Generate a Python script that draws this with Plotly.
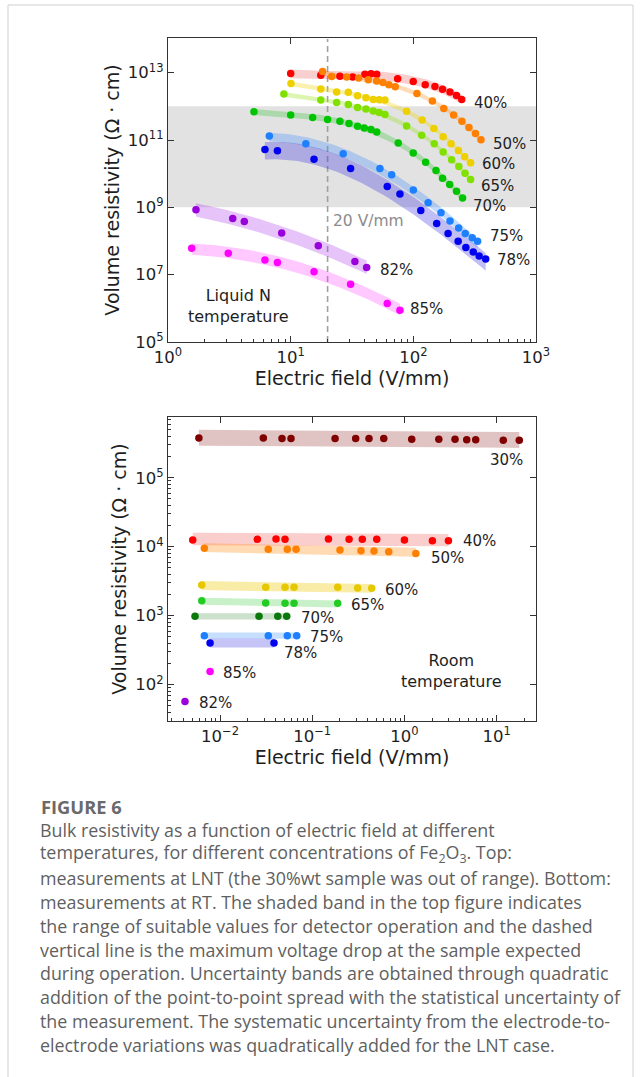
import numpy as np
import plotly.graph_objects as go

# ---------------- data: liquid-nitrogen temperature (top) ----------------
lnt_E_40 = [10.0, 17.6, 25.2, 32.0, 40.3, 45.2, 50.3, 74.5, 99.8, 125, 150, 173, 199, 225, 248]
lnt_R_40 = [9.5e12, 8.4e12, 7.8e12, 7.4e12, 9.0e12, 9.3e12, 9.0e12, 6.6e12, 5.5e12, 4.4e12, 3.9e12, 3.2e12, 2.65e12, 2.1e12, 1.6e12]
lnt_E_50 = [18.2, 21.6, 28.6, 35.8, 42.9, 50.2, 56.5, 63.2, 71.2, 107, 143, 177, 213, 249, 284, 321, 356]
lnt_R_50 = [1.09e13, 7.7e12, 7.4e12, 6.9e12, 6.2e12, 5.65e12, 5.1e12, 4.4e12, 3.8e12, 2.4e12, 1.45e12, 8.7e11, 5.5e11, 3.6e11, 2.35e11, 1.56e11, 1.01e11]
lnt_E_60 = [10.05, 17.6, 23.7, 29.5, 35.1, 41.1, 47.1, 52.7, 58.7, 88.1, 118, 147, 175, 203, 233, 262, 293]
lnt_R_60 = [4.8e12, 3.26e12, 2.65e12, 2.6e12, 2.06e12, 1.79e12, 1.61e12, 1.56e12, 1.53e12, 7.2e11, 3.9e11, 2.19e11, 1.26e11, 7.8e10, 4.9e10, 3.2e10, 2.1e10]
lnt_E_65 = [8.8, 17.6, 23.7, 29.5, 35.1, 41.1, 47.1, 52.7, 58.7, 88.1, 117, 148, 175, 205, 235, 264, 293]
lnt_R_65 = [2.31e12, 1.53e12, 1.31e12, 1.14e12, 9.3e11, 8.4e11, 7.3e11, 6.6e11, 5.7e11, 2.6e11, 1.38e11, 7.8e10, 4.4e10, 2.6e10, 1.64e10, 1.03e10, 6.7e9]
lnt_E_70 = [5.02, 10.0, 15.1, 20.0, 25.2, 29.9, 35.1, 39.8, 45.2, 50.3, 75.3, 99.8, 126, 153, 173, 198, 225, 252]
lnt_R_70 = [6.9e11, 5.5e11, 4.7e11, 4.1e11, 3.6e11, 3.1e11, 2.57e11, 2.28e11, 2.04e11, 1.73e11, 8.1e10, 4.1e10, 2.2e10, 1.25e10, 7.3e9, 4.8e9, 3.0e9, 1.9e9]
lnt_E_75 = [6.7, 13.3, 26.8, 53.4, 66.6, 100, 132, 168, 199, 234, 265, 302, 334]
lnt_R_75 = [1.31e11, 7.8e10, 3.93e10, 1.43e10, 9.3e9, 3.3e9, 1.38e9, 6.9e8, 3.9e8, 2.43e8, 1.67e8, 1.25e8, 9.8e7]
lnt_E_78 = [6.17, 7.8, 15.5, 30.8, 61.3, 77.8, 115, 155, 192, 232, 268, 308, 344, 389]
lnt_R_78 = [5.2e10, 4.8e10, 2.7e10, 1.43e10, 4.15e9, 2.5e9, 8.0e8, 3.3e8, 1.67e8, 9.9e7, 6.4e7, 4.7e7, 3.6e7, 2.9e7]
lnt_E_82 = [1.69, 3.37, 4.19, 8.45, 16.8, 33.4, 41.6]
lnt_R_82 = [8.5e8, 4.7e8, 3.8e8, 1.72e8, 7.2e7, 2.45e7, 1.62e7]
lnt_E_85 = [1.56, 3.1, 6.17, 7.8, 15.5, 30.8, 61.3, 77.8]
lnt_R_85 = [6.1e7, 4.35e7, 2.75e7, 2.28e7, 1.23e7, 5.2e6, 1.4e6, 8.8e5]

# ---------------- data: room temperature (bottom) ----------------
rt_E_30 = [0.0059, 0.0295, 0.047, 0.0589, 0.177, 0.296, 0.413, 0.597, 1.2, 2.36, 3.54, 4.74, 5.93, 11.8, 17.6]
rt_R_30 = [3.75e5, 3.75e5, 3.7e5, 3.7e5, 3.7e5, 3.7e5, 3.7e5, 3.7e5, 3.6e5, 3.6e5, 3.6e5, 3.55e5, 3.55e5, 3.5e5, 3.5e5]
rt_E_40 = [0.00506, 0.0254, 0.0405, 0.0507, 0.150, 0.251, 0.349, 0.501, 1.0, 2.01, 3.0]
rt_R_40 = [1.25e4, 1.28e4, 1.29e4, 1.28e4, 1.29e4, 1.28e4, 1.28e4, 1.28e4, 1.25e4, 1.22e4, 1.22e4]
rt_E_50 = [0.00676, 0.0334, 0.0537, 0.0668, 0.200, 0.338, 0.468, 0.676, 1.33]
rt_R_50 = [9.5e3, 9.2e3, 9.2e3, 9.2e3, 8.96e3, 8.75e3, 8.66e3, 8.47e3, 8.0e3]
rt_E_60 = [0.00634, 0.0313, 0.0507, 0.0635, 0.189, 0.311, 0.442]
rt_R_60 = [2.79e3, 2.58e3, 2.58e3, 2.58e3, 2.58e3, 2.52e3, 2.49e3]
rt_E_65 = [0.00634, 0.0313, 0.0507, 0.0635, 0.189]
rt_R_65 = [1.65e3, 1.53e3, 1.51e3, 1.51e3, 1.51e3]
rt_E_70 = [0.00536, 0.0265, 0.0423, 0.0529]
rt_R_70 = [980, 980, 980, 980]
rt_E_75 = [0.00676, 0.0334, 0.0537, 0.0679]
rt_R_75 = [513, 513, 513, 513]
rt_E_78 = [0.0078, 0.0385]
rt_R_78 = [402, 402]
rt_E_85 = [0.0078]
rt_R_85 = [156]
rt_E_82 = [0.00417]
rt_R_82 = [57]

suitable_range = [1e9, 1e12]
max_field = 20

top_ticks = [1, 10, 100, 1000]
top_ticktext = ["10<sup>0</sup>", "10<sup>1</sup>", "10<sup>2</sup>", "10<sup>3</sup>"]
top_yticks = [1e5, 1e7, 1e9, 1e11, 1e13]
top_yticktext = ["10<sup>5</sup>", "10<sup>7</sup>", "10<sup>9</sup>", "10<sup>11</sup>", "10<sup>13</sup>"]
bot_ticks = [0.01, 0.1, 1, 10]
bot_ticktext = ["10<sup>\u22122</sup>", "10<sup>\u22121</sup>", "10<sup>0</sup>", "10<sup>1</sup>"]
bot_yticks = [1e2, 1e3, 1e4, 1e5]
bot_yticktext = ["10<sup>2</sup>", "10<sup>3</sup>", "10<sup>4</sup>", "10<sup>5</sup>"]

# ---------------- styles ----------------
W, H = 641, 1077
FONT = "DejaVu Sans"
TXT = "#1e1e1e"
LBL = 15

top_series = [
    ("40%", lnt_E_40, lnt_R_40, "#ff0000", "rgba(225,50,50,0.24)", 0.13, (2.475, 12.10)),
    ("50%", lnt_E_50, lnt_R_50, "#ff7f00", "rgba(255,140,20,0.30)", 0.07, (2.630, 10.893)),
    ("60%", lnt_E_60, lnt_R_60, "#eecf00", "rgba(240,210,0,0.32)", 0.07, (2.543, 10.296)),
    ("65%", lnt_E_65, lnt_R_65, "#80e000", "rgba(140,225,0,0.30)", 0.07, (2.535, 9.627)),
    ("70%", lnt_E_70, lnt_R_70, "#00c400", "rgba(0,190,0,0.24)", 0.09, (2.469, 9.05)),
    ("75%", lnt_E_75, lnt_R_75, "#1e7fff", "rgba(40,130,255,0.28)", 0.13, (2.605, 8.134)),
    ("78%", lnt_E_78, lnt_R_78, "#0000f0", "rgba(50,40,225,0.30)", 0.26, (2.665, 7.43)),
    ("82%", lnt_E_82, lnt_R_82, "#9a00dc", "rgba(165,40,230,0.28)", 0.20, (1.709, 7.14)),
    ("85%", lnt_E_85, lnt_R_85, "#ff00ff", "rgba(255,40,255,0.25)", 0.17, (1.959, 5.99)),
]
bot_series = [
    ("30%", rt_E_30, rt_R_30, "#800000", "rgba(130,20,20,0.25)", 0.115, (0.903, 5.257)),
    ("40%", rt_E_40, rt_R_40, "#ff0000", "rgba(240,50,50,0.24)", 0.09, (0.611, 4.087)),
    ("50%", rt_E_50, rt_R_50, "#ff8000", "rgba(255,140,20,0.32)", 0.065, (0.270, 3.832)),
    ("60%", rt_E_60, rt_R_60, "#e6c800", "rgba(235,200,0,0.35)", 0.065, (-0.229, 3.372)),
    ("65%", rt_E_65, rt_R_65, "#22cc22", "rgba(40,200,40,0.25)", 0.05, (-0.598, 3.154)),
    ("70%", rt_E_70, rt_R_70, "#0a780a", "rgba(20,120,20,0.22)", 0.045, (-1.140, 2.967)),
    ("75%", rt_E_75, rt_R_75, "#1e7fff", "rgba(40,130,255,0.26)", 0.045, (-1.042, 2.696)),
    ("78%", rt_E_78, rt_R_78, "#0000f0", "rgba(50,40,225,0.28)", 0.065, (-1.331, 2.455)),
    ("85%", rt_E_85, rt_R_85, "#ff00ff", None, 0, (-1.989, 2.174)),
    ("82%", rt_E_82, rt_R_82, "#9a00dc", None, 0, (-2.246, 1.739)),
]

fig = go.Figure()

def band(E, R, half, color, xa, ya, deg):
    lx = np.log10(np.array(E, float))
    ly = np.log10(np.array(R, float))
    d = min(deg, len(lx) - 1)
    p = np.polyfit(lx, ly, d)
    xs = np.linspace(lx.min(), lx.max(), 60)
    c = np.polyval(p, xs)
    bx = np.concatenate([xs, xs[::-1]])
    by = np.concatenate([c + half, (c - half)[::-1]])
    fig.add_trace(go.Scatter(x=10 ** bx, y=10 ** by, mode="lines", fill="toself",
                             fillcolor=color, line=dict(width=0), hoverinfo="skip",
                             xaxis=xa, yaxis=ya))

# top: suitable range band and 20 V/mm line
fig.add_trace(go.Scatter(x=[1, 1000, 1000, 1, 1], y=[suitable_range[0]] * 2 + [suitable_range[1]] * 2 + [suitable_range[0]],
                         mode="lines", fill="toself", fillcolor="#e2e2e2", line=dict(width=0),
                         hoverinfo="skip", xaxis="x", yaxis="y"))
fig.add_trace(go.Scatter(x=[max_field, max_field], y=[1e5, 1e14], mode="lines",
                         line=dict(color="#a0a0a0", width=1.6, dash="6px,4px"),
                         hoverinfo="skip", xaxis="x", yaxis="y"))

for name, E, R, col, bcol, half, _ in top_series:
    band(E, R, half, bcol, "x", "y", 3 if len(E) >= 10 else 2)
for name, E, R, col, bcol, half, _ in top_series:
    fig.add_trace(go.Scatter(x=E, y=R, mode="markers", marker=dict(color=col, size=7.5),
                             name=name, xaxis="x", yaxis="y"))

for name, E, R, col, bcol, half, _ in bot_series:
    if bcol is not None and len(E) > 1:
        band(E, R, half, bcol, "x2", "y2", 1)
for name, E, R, col, bcol, half, _ in bot_series:
    fig.add_trace(go.Scatter(x=E, y=R, mode="markers", marker=dict(color=col, size=7.5),
                             name=name, xaxis="x2", yaxis="y2"))

# invisible traces so the mirrored (top / right) major-tick axes are drawn
fig.add_trace(go.Scatter(x=[10], y=[1e9], mode="markers", marker=dict(opacity=0),
                         hoverinfo="skip", xaxis="x3", yaxis="y3"))
fig.add_trace(go.Scatter(x=[1], y=[1e3], mode="markers", marker=dict(opacity=0),
                         hoverinfo="skip", xaxis="x4", yaxis="y4"))

ann = []
for name, E, R, col, bcol, half, (ax, ay) in top_series:
    ann.append(dict(x=ax, y=ay, xref="x", yref="y", text=name, showarrow=False,
                    xanchor="left", yanchor="middle", font=dict(family=FONT, size=LBL, color=TXT)))
for name, E, R, col, bcol, half, (ax, ay) in bot_series:
    ann.append(dict(x=ax, y=ay, xref="x2", yref="y2", text=name, showarrow=False,
                    xanchor="left", yanchor="middle", font=dict(family=FONT, size=LBL, color=TXT)))
ann.append(dict(x=1.326, y=8.603, xref="x", yref="y", text="20 V/mm", showarrow=False,
                xanchor="left", yanchor="middle", font=dict(family=FONT, size=15.5, color="#8c8c8c")))
ann.append(dict(x=0.573, y=6.075, xref="x", yref="y", text="Liquid N<br>temperature", showarrow=False,
                xanchor="center", yanchor="middle", font=dict(family=FONT, size=16, color=TXT)))
ann.append(dict(x=0.513, y=2.201, xref="x2", yref="y2", text="Room<br>temperature", showarrow=False,
                xanchor="center", yanchor="middle", font=dict(family=FONT, size=16, color=TXT)))

# caption
CAP_FONT = "Open Sans"
ann.append(dict(x=39 / W, y=1 - 806 / H, xref="paper", yref="paper", text="<b>FIGURE 6</b>",
                showarrow=False, xanchor="left", yanchor="middle",
                font=dict(family=CAP_FONT, size=18.3, color="#6a6a6a")))
cap_lines = [
    "Bulk resistivity as a function of electric field at different",
    "temperatures, for different concentrations of Fe<sub>2</sub>O<sub>3</sub>. Top:",
    "measurements at LNT (the 30%wt sample was out of range). Bottom:",
    "measurements at RT. The shaded band in the top figure indicates",
    "the range of suitable values for detector operation and the dashed",
    "vertical line is the maximum voltage drop at the sample expected",
    "during operation. Uncertainty bands are obtained through quadratic",
    "addition of the point-to-point spread with the statistical uncertainty of",
    "the measurement. The systematic uncertainty from the electrode-to-",
    "electrode variations was quadratically added for the LNT case.",
]
for i, line in enumerate(cap_lines):
    ann.append(dict(x=38 / W, y=1 - (830 + 23.9 * i) / H, xref="paper", yref="paper", text=line,
                    showarrow=False, xanchor="left", yanchor="middle",
                    font=dict(family=CAP_FONT, size=17.85, color="#5f5f5f")))

top_minor = [m * 10 ** k for k in range(0, 3) for m in range(2, 10)]
bot_minor = [m * 10 ** k for k in range(-3, 2) for m in range(2, 10)]
boty_minor = [m * 10 ** k for k in range(1, 6) for m in range(2, 10)]

AX = "#333"
axis_common = dict(type="log", showgrid=False, zeroline=False, showline=True, linecolor=AX,
                   linewidth=1.3, mirror=True, ticks="inside", ticklen=6, tickwidth=1.2,
                   tickcolor=AX, tickfont=dict(family=FONT, size=16.5, color=TXT), tickmode="array",
                   automargin=False)
mirror_common = dict(type="log", showgrid=False, zeroline=False, showline=False, ticks="inside",
                     ticklen=6, tickwidth=1.2, tickcolor=AX, showticklabels=False, tickmode="array",
                     automargin=False)
TITLE_FONT = dict(family=FONT, size=19, color=TXT)

fig.update_layout(
    template="none",
    width=W, height=H, margin=dict(l=0, r=0, t=0, b=0, autoexpand=False),
    paper_bgcolor="white", plot_bgcolor="white", showlegend=False,
    font=dict(family=FONT, color=TXT),
    xaxis=dict(axis_common, domain=[168 / W, 536 / W], anchor="y", range=[0, 3],
               tickvals=top_ticks, ticktext=top_ticktext,
               minor=dict(tickvals=top_minor, ticks="inside", ticklen=3, tickwidth=1, tickcolor=AX),
               title=dict(text="Electric field (V/mm)", font=TITLE_FONT, standoff=2)),
    yaxis=dict(axis_common, domain=[1 - 342 / H, 1 - 38 / H], anchor="x", range=[5, 14.03],
               tickvals=top_yticks, ticktext=top_yticktext,
               title=dict(text="Volume resistivity (\u03a9 \u00b7 cm)", font=TITLE_FONT, standoff=3)),
    xaxis3=dict(mirror_common, overlaying="x", side="top", anchor="y", range=[0, 3], tickvals=top_ticks),
    yaxis3=dict(mirror_common, overlaying="y", side="right", anchor="x", range=[5, 14.03], tickvals=top_yticks),
    xaxis2=dict(axis_common, domain=[168 / W, 536 / W], anchor="y2", range=[-2.564, 1.427],
                tickvals=bot_ticks, ticktext=bot_ticktext,
                minor=dict(tickvals=bot_minor, ticks="inside", ticklen=3, tickwidth=1, tickcolor=AX),
                title=dict(text="Electric field (V/mm)", font=TITLE_FONT, standoff=2)),
    yaxis2=dict(axis_common, domain=[1 - 721 / H, 1 - 417 / H], anchor="x2", range=[1.474, 5.88],
                tickvals=bot_yticks, ticktext=bot_yticktext,
                minor=dict(tickvals=boty_minor, ticks="inside", ticklen=3, tickwidth=1, tickcolor=AX),
                title=dict(text="Volume resistivity (\u03a9 \u00b7 cm)", font=TITLE_FONT, standoff=3)),
    xaxis4=dict(mirror_common, overlaying="x2", side="top", anchor="y2", range=[-2.564, 1.427], tickvals=bot_ticks),
    yaxis4=dict(mirror_common, overlaying="y2", side="right", anchor="x2", range=[1.474, 5.88], tickvals=bot_yticks),
    annotations=ann,
    shapes=[dict(type="rect", xref="paper", yref="paper", x0=8 / W, x1=633 / W, y0=-0.02, y1=1 - 5 / H,
                 line=dict(color="#d0d0d0", width=1), layer="below")],
)

fig.write_html("out.html", config={"displayModeBar": False},
               post_script="document.body.style.margin='0';")
